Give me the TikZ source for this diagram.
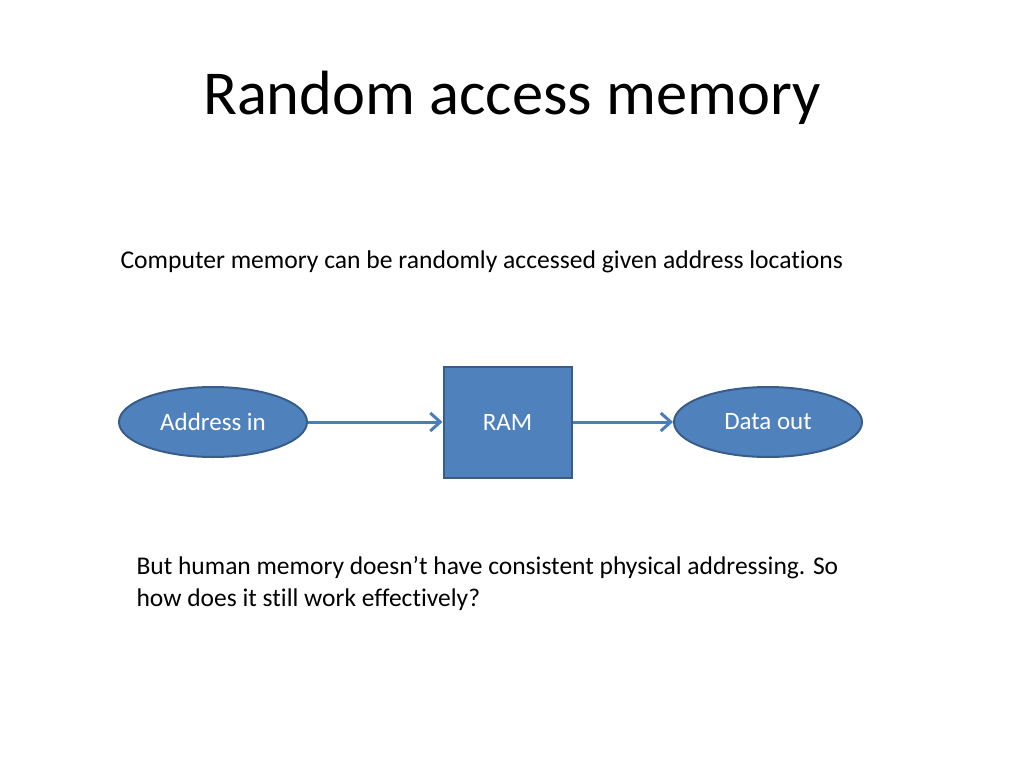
\documentclass[tikz,border=0pt]{standalone}
\usepackage{fontspec}
\setmainfont{Carlito}[Ligatures={NoCommon}]
\usetikzlibrary{positioning,shapes.geometric,arrows.meta}
\definecolor{boxfill}{HTML}{4F81BD}
\definecolor{boxline}{HTML}{385D8A}
\definecolor{arrowc}{HTML}{4A7EBB}
\begin{document}
\begin{tikzpicture}[x=1pt,y=-1pt,
    blob/.style={ellipse, draw=boxline, fill=boxfill, line width=2pt,
      minimum width=188pt, minimum height=70pt, text=white, font=\fontsize{25}{30}\selectfont},
    flow/.style={-{Straight Barb[length=10pt,width=18pt]}, arrowc, line width=3pt}]

    \useasboundingbox (0,0) rectangle (1024,768);

    \node (title) at (512,98) {\fontsize{62.5}{70}\selectfont Random access memory};
    \node [anchor=west] (intro) at (117,262) {\fontsize{25.6}{30}\selectfont Computer memory can be randomly accessed given address locations};

    \node [blob] (addr) at (213,422) {Address in};
    \node [draw=boxline, fill=boxfill, line width=2pt, minimum width=128pt,
      minimum height=111pt, text=white, font=\fontsize{25}{30}\selectfont] (ram) at (507.5,422) {RAM};
    \node [blob] (data) at (768,422) {Data out};

    \draw [flow] (addr) -- (ram);
    \draw [flow] (ram) -- (data);

    \node [anchor=north west, align=left, font=\fontsize{25.5}{32}\selectfont] (question) at (133,553)
      {But human memory doesn’t have consistent physical addressing. So\\how does it still work effectively?};

\end{tikzpicture}
\end{document}
